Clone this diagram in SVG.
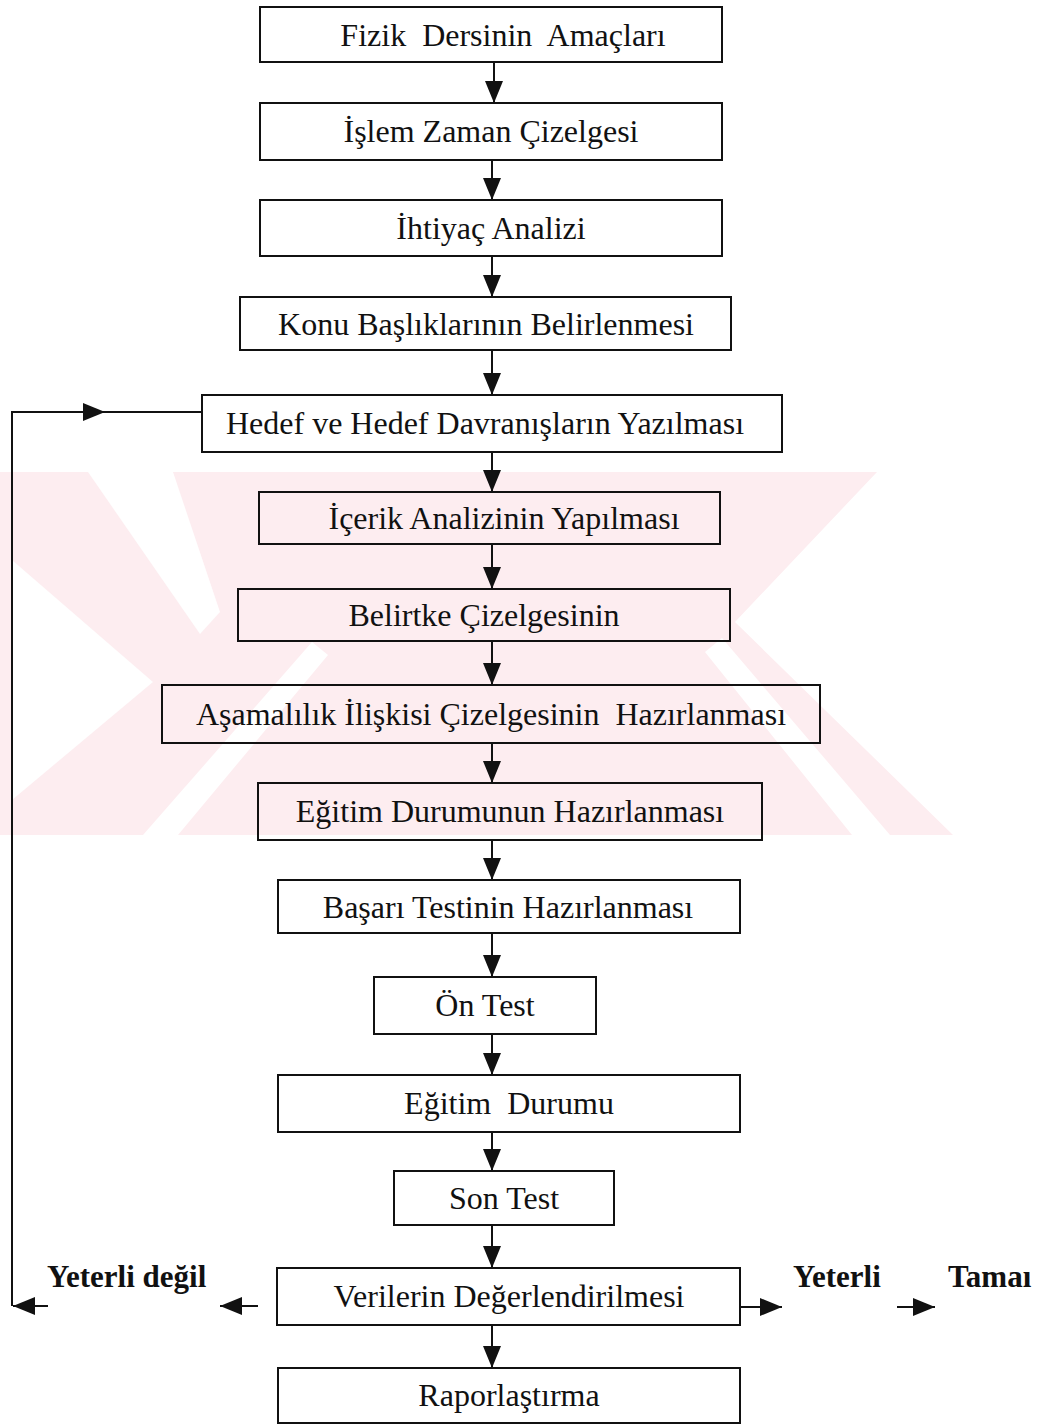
<svg xmlns="http://www.w3.org/2000/svg" width="1049" height="1425" viewBox="0 0 1049 1425">
<defs>
<style>
.box{fill:none;stroke:#111;stroke-width:2}
.lbl{font-family:"Liberation Serif","Times New Roman",serif;font-size:32px;fill:#111;text-anchor:middle;white-space:pre}
.side{font-family:"Liberation Serif","Times New Roman",serif;font-size:31px;font-weight:bold;fill:#111}
.conn{stroke:#111;stroke-width:2;fill:none}
.wm{fill:#fdedf0}
.wmc{fill:#ffffff}
</style>
<marker id="ah" viewBox="0 0 22 18" refX="22" refY="9" markerWidth="22" markerHeight="18" markerUnits="userSpaceOnUse" orient="auto">
<path d="M0,0 L22,9 L0,18 z" fill="#111"/>
</marker>
</defs>
<rect width="1049" height="1425" fill="#ffffff"/>
<g id="watermark">
<polygon class="wm" points="0,472 877,472 735,622 953,835 0,835"/>
<polygon class="wmc" points="88,472 173,472 220,612 200,634"/>
<polygon class="wmc" points="12,560 153,682 12,800"/>
<polygon class="wmc" points="143,835 178,835 328,655 312,642"/>
<polygon class="wmc" points="705,652 722,638 890,835 852,835"/>
</g>
<g id="connectors">
<path class="conn" d="M494,62 L494,103" marker-end="url(#ah)"/>
<path class="conn" d="M492,160 L492,200" marker-end="url(#ah)"/>
<path class="conn" d="M492,256 L492,297" marker-end="url(#ah)"/>
<path class="conn" d="M492,350 L492,395" marker-end="url(#ah)"/>
<path class="conn" d="M492,452 L492,492" marker-end="url(#ah)"/>
<path class="conn" d="M492,544 L492,589" marker-end="url(#ah)"/>
<path class="conn" d="M492,641 L492,685" marker-end="url(#ah)"/>
<path class="conn" d="M492,743 L492,783" marker-end="url(#ah)"/>
<path class="conn" d="M492,840 L492,880" marker-end="url(#ah)"/>
<path class="conn" d="M492,933 L492,977" marker-end="url(#ah)"/>
<path class="conn" d="M492,1034 L492,1075" marker-end="url(#ah)"/>
<path class="conn" d="M492,1132 L492,1171" marker-end="url(#ah)"/>
<path class="conn" d="M492,1225 L492,1268" marker-end="url(#ah)"/>
<path class="conn" d="M492,1325 L492,1368" marker-end="url(#ah)"/>
<path class="conn" d="M258,1306 L220,1306" marker-end="url(#ah)"/>
<path class="conn" d="M48,1306 L13,1306" marker-end="url(#ah)"/>
<path class="conn" d="M12,1306 L12,412 L105,412" marker-end="url(#ah)"/>
<path class="conn" d="M104,412 L202,412"/>
<path class="conn" d="M740,1307 L782,1307" marker-end="url(#ah)"/>
<path class="conn" d="M897,1307 L935,1307" marker-end="url(#ah)"/>
</g>
<g id="n1"><rect class="box" x="260" y="7" width="462" height="55"/><text class="lbl" x="503" y="46">Fizik  Dersinin  Amaçları</text></g>
<g id="n2"><rect class="box" x="260" y="103" width="462" height="57"/><text class="lbl" x="491" y="142">İşlem Zaman Çizelgesi</text></g>
<g id="n3"><rect class="box" x="260" y="200" width="462" height="56"/><text class="lbl" x="491" y="239">İhtiyaç Analizi</text></g>
<g id="n4"><rect class="box" x="240" y="297" width="491" height="53"/><text class="lbl" x="486" y="335">Konu Başlıklarının Belirlenmesi</text></g>
<g id="n5"><rect class="box" x="202" y="395" width="580" height="57"/><text class="lbl" x="485" y="434">Hedef ve Hedef Davranışların Yazılması</text></g>
<g id="n6"><rect class="box" x="259" y="492" width="461" height="52"/><text class="lbl" x="504" y="529">İçerik Analizinin Yapılması</text></g>
<g id="n7"><rect class="box" x="238" y="589" width="492" height="52"/><text class="lbl" x="484" y="626">Belirtke Çizelgesinin</text></g>
<g id="n8"><rect class="box" x="162" y="685" width="658" height="58"/><text class="lbl" x="491" y="725">Aşamalılık İlişkisi Çizelgesinin  Hazırlanması</text></g>
<g id="n9"><rect class="box" x="258" y="783" width="504" height="57"/><text class="lbl" x="510" y="822">Eğitim Durumunun Hazırlanması</text></g>
<g id="n10"><rect class="box" x="278" y="880" width="462" height="53"/><text class="lbl" x="508" y="918">Başarı Testinin Hazırlanması</text></g>
<g id="n11"><rect class="box" x="374" y="977" width="222" height="57"/><text class="lbl" x="485" y="1016">Ön Test</text></g>
<g id="n12"><rect class="box" x="278" y="1075" width="462" height="57"/><text class="lbl" x="509" y="1114">Eğitim  Durumu</text></g>
<g id="n13"><rect class="box" x="394" y="1171" width="220" height="54"/><text class="lbl" x="504" y="1209">Son Test</text></g>
<g id="n14"><rect class="box" x="277" y="1268" width="463" height="57"/><text class="lbl" x="509" y="1307">Verilerin Değerlendirilmesi</text></g>
<g id="n15"><rect class="box" x="278" y="1368" width="462" height="55"/><text class="lbl" x="509" y="1406">Raporlaştırma</text></g>
<g id="labels">
<text class="side" x="47" y="1287">Yeterli değil</text>
<text class="side" x="793" y="1287">Yeterli</text>
<text class="side" x="948" y="1287">Tamaı</text>
</g>
</svg>
